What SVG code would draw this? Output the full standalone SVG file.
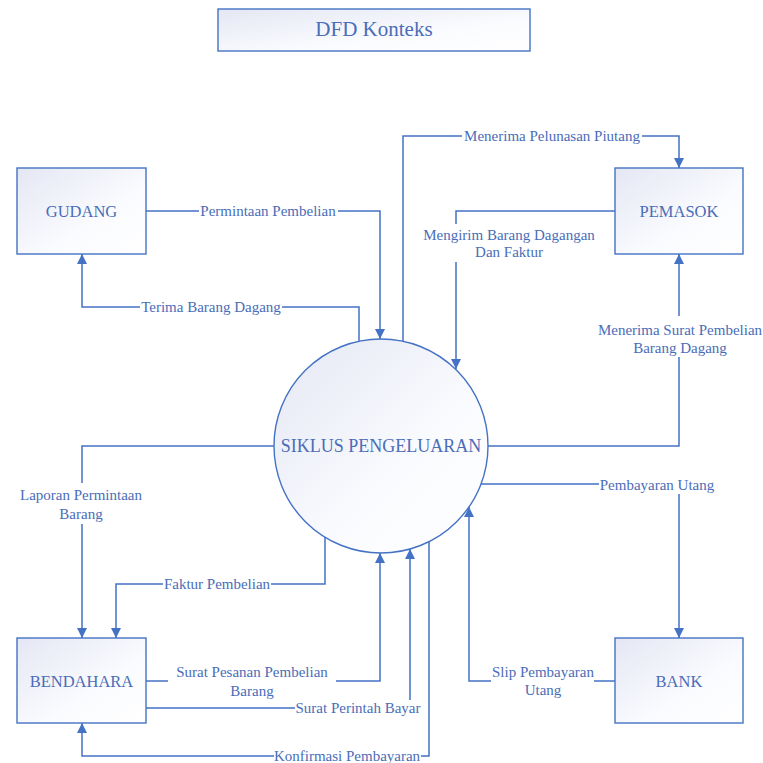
<svg xmlns="http://www.w3.org/2000/svg" width="763" height="763" viewBox="0 0 763 763">
<defs>
<linearGradient id="g" x1="0" y1="0" x2="1" y2="1">
<stop offset="0" stop-color="#E4E7F4"/>
<stop offset="0.6" stop-color="#FAFBFE"/>
<stop offset="1" stop-color="#FFFFFF"/>
</linearGradient>
<marker id="arr" viewBox="0 0 10 10" refX="10" refY="5" markerWidth="10" markerHeight="11" markerUnits="userSpaceOnUse" orient="auto">
<path d="M0,0 L10,5 L0,10 z" fill="#4472C4"/>
</marker>
<style>
.box{fill:url(#g);stroke:#4472C4;stroke-width:1.4}
.nt{font-size:16.5px;fill:#4A6DB8;text-anchor:middle}
.ln{fill:none;stroke:#4472C4;stroke-width:1.5}
.ar{marker-end:url(#arr)}
.lb{font-size:15px;fill:#4A6DB8;text-anchor:middle}
.bg{fill:#FFFFFF}
</style>
</defs>
<rect width="763" height="763" fill="#FFFFFF"/>
<g font-family="Liberation Serif, DejaVu Serif, serif">
<g id="title">
<rect class="box" x="218" y="9" width="312" height="42"/>
<text class="nt" x="374" y="36" style="font-size:21px">DFD Konteks</text>
</g>

<g id="connectors">
<path class="ln ar" d="M146,211 H380 V339"/>
<path class="ln ar" d="M359,341 V307 H82 V254"/>
<path class="ln ar" d="M403,341 V136 H679 V168"/>
<path class="ln ar" d="M615,211 H456 V369"/>
<path class="ln ar" d="M488,446 H679 V254"/>
<path class="ln ar" d="M481,484 H679 V638"/>
<path class="ln ar" d="M615,681 H469 V507"/>
<path class="ln ar" d="M274,446 H82 V638"/>
<path class="ln ar" d="M325,537 V584 H116 V638"/>
<path class="ln ar" d="M146,681 H380 V553"/>
<path class="ln ar" d="M146,708 H410 V549"/>
<path class="ln ar" d="M429,542 V756 H82 V723"/>

<rect class="bg" x="199" y="203" width="139" height="16"/>
<text class="lb" x="268" y="216">Permintaan Pembelian</text>
<rect class="bg" x="140" y="299" width="142" height="16"/>
<text class="lb" x="211" y="312">Terima Barang Dagang</text>
<rect class="bg" x="462" y="128" width="180" height="16"/>
<text class="lb" x="552" y="141">Menerima Pelunasan Piutang</text>
<rect class="bg" x="420" y="224" width="178" height="38"/>
<text class="lb" x="509" y="240">Mengirim Barang Dagangan</text>
<text class="lb" x="509" y="257">Dan Faktur</text>
<rect class="bg" x="596" y="316" width="167" height="41"/>
<text class="lb" x="680" y="335">Menerima Surat Pembelian</text>
<text class="lb" x="680" y="353">Barang Dagang</text>
<rect class="bg" x="599" y="476" width="117" height="18"/>
<text class="lb" x="657" y="490">Pembayaran Utang</text>
<rect class="bg" x="13" y="483" width="138" height="41"/>
<text class="lb" x="81" y="500">Laporan Permintaan</text>
<text class="lb" x="81" y="519">Barang</text>
<rect class="bg" x="163" y="576" width="108" height="16"/>
<text class="lb" x="217" y="589">Faktur Pembelian</text>
<rect class="bg" x="168" y="663" width="168" height="36"/>
<text class="lb" x="252" y="677">Surat Pesanan Pembelian</text>
<text class="lb" x="252" y="696">Barang</text>
<rect class="bg" x="295" y="700" width="126" height="16"/>
<text class="lb" x="358" y="713">Surat Perintah Bayar</text>
<rect class="bg" x="491" y="664" width="103" height="34"/>
<text class="lb" x="543" y="677">Slip Pembayaran</text>
<text class="lb" x="543" y="695">Utang</text>
<rect class="bg" x="274" y="748" width="147" height="15"/>
<text class="lb" x="347" y="761">Konfirmasi Pembayaran</text>
</g>

<g id="gudang">
<rect class="box" x="17" y="168" width="129" height="86"/>
<text class="nt" x="81.5" y="217">GUDANG</text>
</g>
<g id="pemasok">
<rect class="box" x="615" y="168" width="128" height="86"/>
<text class="nt" x="679" y="217">PEMASOK</text>
</g>
<g id="bendahara">
<rect class="box" x="17" y="638" width="129" height="85"/>
<text class="nt" x="81.5" y="687">BENDAHARA</text>
</g>
<g id="bank">
<rect class="box" x="615" y="638" width="128" height="85"/>
<text class="nt" x="679" y="687">BANK</text>
</g>
<g id="siklus">
<circle class="box" cx="381" cy="446" r="107"/>
<text class="nt" x="381" y="452" style="font-size:18px">SIKLUS PENGELUARAN</text>
</g>
</g>
</svg>
